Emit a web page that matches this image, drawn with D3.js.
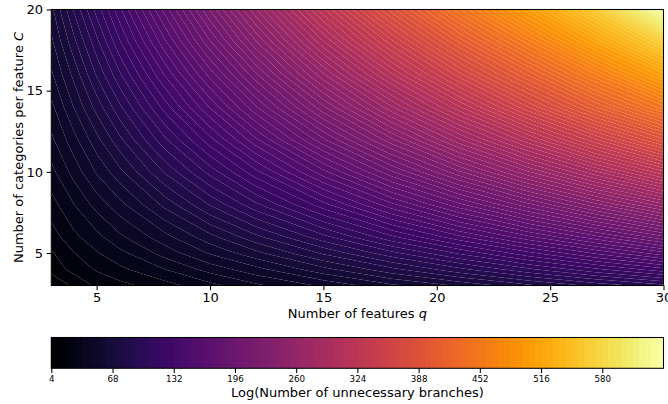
<!DOCTYPE html>
<html>
<head>
<meta charset="utf-8">
<script src="https://cdn.jsdelivr.net/npm/d3@7"></script>
<style>
  html, body { margin: 0; padding: 0; background: #fff; }
  svg text { font-family: "DejaVu Sans"; fill: #000; }
</style>
</head>
<body>
<script>
// values (contour counts near the corner, colours elsewhere)
const qValues = [3, 4, 5, 6, 8, 10, 12, 15, 18, 21, 24, 27, 30];
const cValues = [3, 4, 5, 6, 8, 10, 12, 14, 16, 18, 20];
const logBranches = [
  [4, 12, 18, 21, 27, 34, 41, 50, 60, 69, 79, 89, 98],
  [13, 19, 24, 28, 36, 45, 53, 66, 79, 92, 105, 118, 130],
  [16, 23, 29, 34, 45, 56, 66, 82, 98, 114, 130, 146, 162],
  [20, 28, 34, 41, 53, 66, 79, 98, 118, 137, 156, 175, 195],
  [27, 36, 45, 53, 70, 88, 105, 130, 156, 182, 207, 233, 259],
  [34, 45, 56, 66, 88, 109, 130, 162, 195, 227, 259, 291, 323],
  [41, 53, 66, 79, 105, 130, 156, 195, 233, 272, 310, 349, 387],
  [47, 62, 77, 92, 122, 152, 182, 227, 272, 317, 362, 407, 450],
  [54, 70, 88, 105, 139, 173, 207, 259, 310, 360, 408, 458, 508],
  [60, 79, 98, 118, 156, 195, 233, 291, 347, 402, 455, 510, 568],
  [66, 88, 109, 130, 173, 216, 259, 323, 385, 445, 502, 562, 644]
];
const xTicks = [5, 10, 15, 20, 25, 30];
const yTicks = [5, 10, 15, 20];
const barTicks = [4, 68, 132, 196, 260, 324, 388, 452, 516, 580];
const minLevel = 4;
const maxLevel = 644;
const bandCount = 100;

const width = 668, height = 404;
const plot = { left: 51.3, right: 663.5, top: 9.5, bottom: 285.5 };
const bar = { top: 337.5, bottom: 368.3 };
const labelSize = 13;

const svg = d3.select("body").append("svg")
  .attr("width", width)
  .attr("height", height)
  .style("display", "block");

const x = d3.scaleLinear().domain([3, 30]).range([plot.left, plot.right]);
const y = d3.scaleLinear().domain([3, 20]).range([plot.bottom, plot.top]);
const color = d3.scaleSequential(d3.interpolateInferno).domain([minLevel, maxLevel]);

const levels = d3.range(bandCount + 1).map(i => minLevel + i * (maxLevel - minLevel) / bandCount);

// d3.contours puts sample i at i + 0.5, the grid is not even so map it back piecewise
const gridX = d3.scaleLinear()
  .domain(qValues.map((d, i) => i + 0.5))
  .range(qValues.map(d => x(d)))
  .clamp(true);
const gridY = d3.scaleLinear()
  .domain(cValues.map((d, i) => i + 0.5))
  .range(cValues.map(d => y(d)))
  .clamp(true);

const toPixels = d3.geoTransform({
  point(px, py) { this.stream.point(gridX(px), gridY(py)); }
});
const path = d3.geoPath(toPixels);

const contours = d3.contours()
  .size([qValues.length, cValues.length])
  .thresholds(levels)(logBranches.flat());

svg.append("clipPath").attr("id", "plot-clip")
  .append("rect")
  .attr("x", plot.left)
  .attr("y", plot.top)
  .attr("width", plot.right - plot.left)
  .attr("height", plot.bottom - plot.top);

// bands do not overlap: the white seams between them come from antialiasing, as in the reference
svg.append("g")
  .attr("clip-path", "url(#plot-clip)")
  .selectAll("path")
  .data(d3.range(bandCount))
  .enter()
  .append("path")
  .attr("d", i => path(contours[i]) + (path(contours[i + 1]) || ""))
  .attr("fill-rule", "evenodd")
  .attr("fill", i => color((levels[i] + levels[i + 1]) / 2));

function frame(top, bottom) {
  svg.append("rect")
    .attr("x", plot.left)
    .attr("y", top)
    .attr("width", plot.right - plot.left)
    .attr("height", bottom - top)
    .attr("fill", "none")
    .attr("stroke", "#000")
    .attr("stroke-width", 1.07);
}

function styleAxis(g, fontSize) {
  g.select(".domain").remove();
  g.selectAll(".tick line").attr("stroke", "#000").attr("stroke-width", 1.07);
  g.selectAll(".tick text").style("font-family", "DejaVu Sans").style("font-size", fontSize + "px");
}

frame(plot.top, plot.bottom);

svg.append("g")
  .attr("transform", `translate(0,${plot.bottom})`)
  .call(d3.axisBottom(x).tickValues(xTicks).tickFormat(d3.format("d")).tickSize(4.67).tickPadding(3))
  .call(styleAxis, labelSize);

svg.append("g")
  .attr("transform", `translate(${plot.left},0)`)
  .call(d3.axisLeft(y).tickValues(yTicks).tickFormat(d3.format("d")).tickSize(4.67).tickPadding(3.5))
  .call(styleAxis, labelSize);

// colorbar
const barX = d3.scaleLinear().domain([minLevel, maxLevel]).range([plot.left, plot.right]);

svg.append("g")
  .selectAll("rect")
  .data(d3.range(bandCount))
  .enter()
  .append("rect")
  .attr("x", i => barX(levels[i]))
  .attr("y", bar.top)
  .attr("width", i => barX(levels[i + 1]) - barX(levels[i]))
  .attr("height", bar.bottom - bar.top)
  .attr("shape-rendering", "crispEdges")
  .attr("fill", i => color((levels[i] + levels[i + 1]) / 2));

frame(bar.top, bar.bottom);

svg.append("g")
  .attr("transform", `translate(0,${bar.bottom})`)
  .call(d3.axisBottom(barX).tickValues(barTicks).tickFormat(d3.format("d")).tickSize(4.67).tickPadding(2.6))
  .call(styleAxis, 8.7);

// labels
const xLabel = svg.append("text")
  .attr("x", (plot.left + plot.right) / 2)
  .attr("y", 318.3)
  .attr("text-anchor", "middle")
  .style("font-size", labelSize + "px");
xLabel.append("tspan").text("Number of features ");
xLabel.append("tspan").style("font-style", "italic").text("q");

const yLabel = svg.append("text")
  .attr("transform", `translate(22.5,${(plot.top + plot.bottom) / 2}) rotate(-90)`)
  .attr("text-anchor", "middle")
  .style("font-size", labelSize + "px");
yLabel.append("tspan").text("Number of categories per feature ");
yLabel.append("tspan").style("font-style", "italic").text("C");

svg.append("text")
  .attr("x", (plot.left + plot.right) / 2)
  .attr("y", 397.3)
  .attr("text-anchor", "middle")
  .style("font-size", labelSize + "px")
  .text("Log(Number of unnecessary branches)");
</script>
</body>
</html>
